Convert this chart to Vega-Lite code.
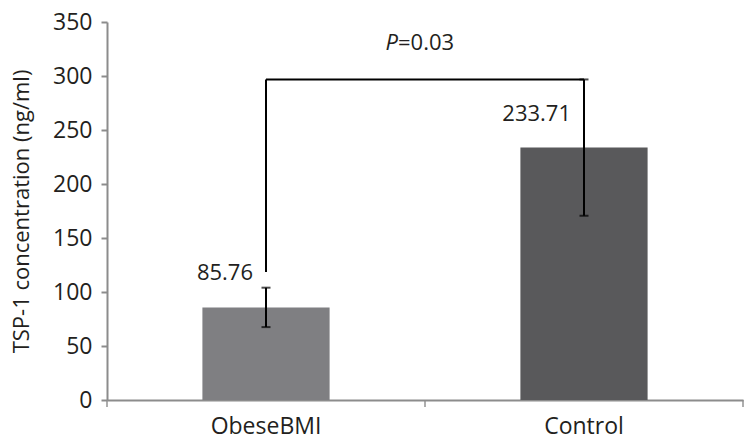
{
  "$schema": "https://vega.github.io/schema/vega-lite/v6.json",
  "width": 636,
  "height": 378,
  "autosize": "none",
  "padding": {"left": 107, "top": 22, "right": 12, "bottom": 46},
  "background": "white",
  "config": {"view": {"stroke": null}, "font": "Open Sans"},
  "datasets": {
    "bars": [
      {"group": "ObeseBMI", "mean": 85.76, "lo": 67.5, "hi": 104.0, "label": "85.76"},
      {"group": "Control", "mean": 233.71, "lo": 170.6, "hi": 296.8, "label": "233.71"}
    ],
    "bracket": [
      {"from": "ObeseBMI", "to": "Control", "top": 296.8, "bottom": 118.5, "p": "=0.03"}
    ]
  },
  "layer": [
    {
      "data": {"name": "bars"},
      "mark": {"type": "bar", "width": {"band": 0.4}},
      "encoding": {
        "x": {
          "field": "group", "type": "nominal",
          "scale": {"domain": ["ObeseBMI", "Control"], "paddingInner": 0, "paddingOuter": 0},
          "axis": {
            "title": null, "labelAngle": 0, "labelFontSize": 23, "labelColor": "#231f20",
            "labelPadding": 15, "ticks": false, "domainColor": "#8c8c8c", "domainWidth": 2
          }
        },
        "y": {
          "field": "mean", "type": "quantitative",
          "scale": {"domain": [0, 350], "nice": false},
          "axis": {
            "title": "TSP-1 concentration (ng/ml)", "titleFontSize": 22, "titleFontWeight": "normal",
            "titleColor": "#231f20", "titlePadding": 19,
            "values": [0, 50, 100, 150, 200, 250, 300, 350],
            "labelFontSize": 23, "labelColor": "#231f20", "labelPadding": 9,
            "grid": false, "domainColor": "#8c8c8c", "domainWidth": 2,
            "tickColor": "#8c8c8c", "tickWidth": 2, "tickSize": 6
          }
        },
        "color": {
          "field": "group", "type": "nominal",
          "scale": {"domain": ["ObeseBMI", "Control"], "range": ["#7f7f82", "#59595b"]},
          "legend": null
        }
      }
    },
    {
      "data": {"name": "bars"},
      "mark": {"type": "rule", "color": "#000000", "strokeWidth": 2},
      "encoding": {
        "x": {"field": "group", "type": "nominal"},
        "y": {"field": "lo", "type": "quantitative"},
        "y2": {"field": "hi"}
      }
    },
    {
      "data": {"name": "bars"},
      "mark": {"type": "tick", "orient": "horizontal", "size": 9, "thickness": 2, "color": "#000000"},
      "encoding": {
        "x": {"field": "group", "type": "nominal"},
        "y": {"field": "lo", "type": "quantitative"}
      }
    },
    {
      "data": {"name": "bars"},
      "mark": {"type": "tick", "orient": "horizontal", "size": 9, "thickness": 2, "color": "#000000"},
      "encoding": {
        "x": {"field": "group", "type": "nominal"},
        "y": {"field": "hi", "type": "quantitative"}
      }
    },
    {
      "data": {"name": "bars"},
      "mark": {"type": "text", "align": "right", "baseline": "middle", "dx": -13, "dy": -34, "fontSize": 22, "color": "#231f20"},
      "encoding": {
        "x": {"field": "group", "type": "nominal"},
        "y": {"field": "mean", "type": "quantitative"},
        "text": {"field": "label"}
      }
    },
    {
      "data": {"name": "bracket"},
      "mark": {"type": "rule", "color": "#000000", "strokeWidth": 2},
      "encoding": {
        "x": {"field": "from", "type": "nominal"},
        "x2": {"field": "to"},
        "y": {"field": "top", "type": "quantitative"}
      }
    },
    {
      "data": {"name": "bracket"},
      "mark": {"type": "rule", "color": "#000000", "strokeWidth": 2},
      "encoding": {
        "x": {"field": "from", "type": "nominal"},
        "y": {"field": "bottom", "type": "quantitative"},
        "y2": {"field": "top"}
      }
    },
    {
      "data": {"name": "bracket"},
      "mark": {"type": "text", "text": "P", "fontStyle": "italic", "align": "right", "baseline": "middle", "dx": -27, "dy": -36, "fontSize": 22, "color": "#231f20"},
      "encoding": {
        "x": {"field": "to", "type": "nominal", "bandPosition": 0},
        "y": {"field": "top", "type": "quantitative"}
      }
    },
    {
      "data": {"name": "bracket"},
      "mark": {"type": "text", "align": "left", "baseline": "middle", "dx": -27, "dy": -36, "fontSize": 22, "color": "#231f20"},
      "encoding": {
        "x": {"field": "to", "type": "nominal", "bandPosition": 0},
        "y": {"field": "top", "type": "quantitative"},
        "text": {"field": "p"}
      }
    },
    {
      "data": {"name": "bracket"},
      "mark": {"type": "tick", "orient": "vertical", "size": 7, "thickness": 2, "color": "#8c8c8c", "yOffset": 3.5},
      "encoding": {
        "x": {"field": "from", "type": "nominal", "bandPosition": 0},
        "y": {"datum": 0, "type": "quantitative"}
      }
    },
    {
      "data": {"name": "bracket"},
      "mark": {"type": "tick", "orient": "vertical", "size": 7, "thickness": 2, "color": "#8c8c8c", "yOffset": 3.5},
      "encoding": {
        "x": {"field": "to", "type": "nominal", "bandPosition": 0},
        "y": {"datum": 0, "type": "quantitative"}
      }
    },
    {
      "data": {"name": "bracket"},
      "mark": {"type": "tick", "orient": "vertical", "size": 7, "thickness": 2, "color": "#8c8c8c", "yOffset": 3.5},
      "encoding": {
        "x": {"field": "to", "type": "nominal", "bandPosition": 1},
        "y": {"datum": 0, "type": "quantitative"}
      }
    }
  ]
}
